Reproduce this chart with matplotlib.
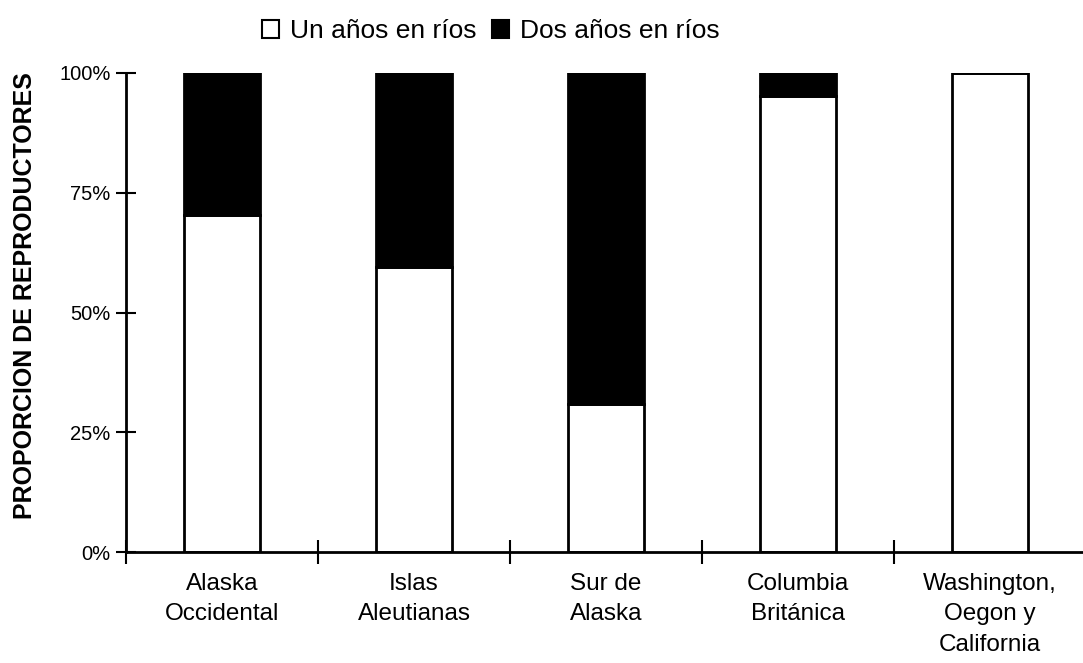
import matplotlib.pyplot as plt
from matplotlib.patches import Patch

plt.rcParams['font.family'] = ['Liberation Sans', 'DejaVu Sans']

# regiones y proporción de reproductores por años de agua dulce (%)
regiones = ["Alaska\nOccidental", "Islas\nAleutianas", "Sur de\nAlaska",
            "Columbia\nBritánica", "Washington,\nOegon y\nCalifornia"]
un_ano = [70.3, 59.5, 30.8, 95.2, 100.0]
dos_anos = [100 - v for v in un_ano]
yticks = [0, 25, 50, 75, 100]

fig = plt.figure(figsize=(10.83, 6.63), dpi=100)
ax = fig.add_axes([126 / 1083, 1 - 552 / 663, 960 / 1083, 479 / 663])

x = list(range(len(regiones)))
ax.bar(x, un_ano, width=0.40, color='white', edgecolor='black', linewidth=2, zorder=2)
ax.bar(x, dos_anos, bottom=un_ano, width=0.40, color='black', edgecolor='black',
       linewidth=2, zorder=2)

ax.set_xlim(-0.5, len(regiones) - 0.5)
ax.set_ylim(0, 100)

# ticks de separación entre categorías, etiquetas centradas en cada barra
ax.set_xticks([i - 0.5 for i in range(len(regiones))])
ax.set_xticklabels([])
ax.set_xticks(x, minor=True)
ax.set_xticklabels(regiones, minor=True, fontsize=17.5, linespacing=1.5)
ax.tick_params(axis='x', which='major', direction='inout', length=17, width=1.5)
ax.tick_params(axis='x', which='minor', length=0, pad=15)

ax.set_yticks(yticks)
ax.set_yticklabels([f"{v}%" for v in yticks], fontsize=14.5)
ax.tick_params(axis='y', direction='inout', length=14, width=1.5, pad=4)

for side in ['top', 'right']:
    ax.spines[side].set_visible(False)
for side in ['left', 'bottom']:
    ax.spines[side].set_linewidth(2)

fig.text(25 / 1083, 1 - 296 / 663, "PROPORCION DE REPRODUCTORES", rotation=90,
         ha='center', va='center', fontsize=18, fontweight='bold')

handles = [Patch(facecolor='white', edgecolor='black', linewidth=1.5),
           Patch(facecolor='black', edgecolor='black', linewidth=1.5)]
fig.legend(handles, ["Un años en ríos", "Dos años en ríos"], loc='upper left',
           bbox_to_anchor=(262 / 1083, 1 - 19 / 663), ncol=2, frameon=False,
           fontsize=19, handlelength=0.65, handleheight=0.65, handletextpad=0.4,
           columnspacing=0.6, borderpad=0, borderaxespad=0)

fig.savefig("out.png", dpi=100)
